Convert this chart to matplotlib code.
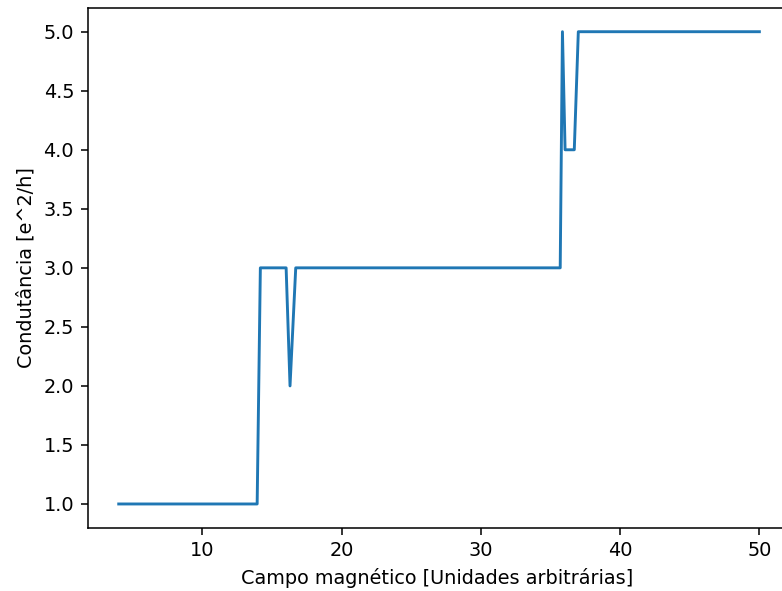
import matplotlib
matplotlib.use("Agg")
import matplotlib.pyplot as plt

# pontos de quina da curva
campo = [4.0, 13.94, 14.17, 16.02, 16.30, 16.71, 35.70, 35.86, 36.05, 36.71, 37.00, 50.0]
condutancia = [1, 1, 3, 3, 2, 3, 3, 5, 4, 4, 5, 5]

# a original parece ampliada ~1.39x, entao uso dpi maior
dpi = 139
fig = plt.figure(figsize=(782 / dpi, 591 / dpi), dpi=dpi)
# eixo passa um pouco da borda direita (espinha direita fica fora da imagem)
ax = fig.add_axes([0.1121, 0.1073, 0.8928, 0.879])

ax.plot(campo, condutancia)
ax.set_xlim(1.77, 51.9)
ax.set_xlabel("Campo magnético [Unidades arbitrárias]")
ax.set_ylabel("Condutância [e^2/h]")

fig.savefig("out.png", dpi=dpi)
